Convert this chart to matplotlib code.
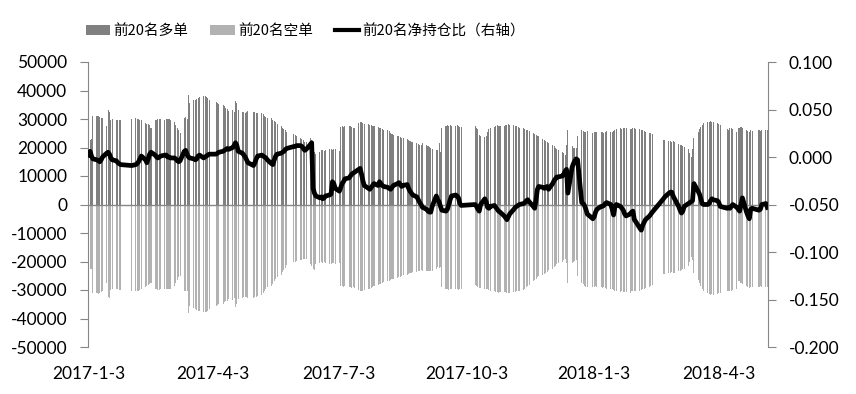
import numpy as np
import pandas as pd
import matplotlib
matplotlib.use('Agg')
import matplotlib.pyplot as plt
from matplotlib.patches import Patch
from matplotlib.lines import Line2D

plt.rcParams['font.family'] = ['Lato', 'Noto Sans CJK SC', 'DejaVu Sans']
plt.rcParams['axes.unicode_minus'] = False

# exchange holidays falling on weekdays (no trading)
holidays = ['2017-01-02', '2017-01-27', '2017-01-30', '2017-01-31', '2017-02-01', '2017-02-02',
            '2017-04-03', '2017-04-04', '2017-05-01', '2017-05-29', '2017-05-30',
            '2017-10-02', '2017-10-03', '2017-10-04', '2017-10-05', '2017-10-06',
            '2018-01-01', '2018-02-15', '2018-02-16', '2018-02-19', '2018-02-20', '2018-02-21',
            '2018-04-05', '2018-04-06', '2018-04-30', '2018-05-01']
first_day, last_day = '2017-01-03', '2018-05-08'

# top-20 long positions (thousand lots), one line per month
long_k = [
    22.5, 22.8, 23, 31, 31, 31.2, 30.8, 30.5, 30.2, 27.5, 33, 32.5, 29.5, 30, 29.6, 29.8, 29.7, 29.5,
    30, 30.2, 30, 30.1, 29.8, 29.6, 28.6, 28.4, 28.2, 27.8, 27, 29.5, 29.8, 30, 29.9, 30, 29.7, 30.1,
    30, 29.9, 29.5, 28.8, 28, 27, 26, 25, 30.5, 30.8, 30, 38.4, 35.7, 36.5, 36.8, 37, 37.5, 37.8, 37.9, 38, 37.8, 37.5, 36.7,
    35.8, 35.5, 35.2, 35, 34.5, 34, 33.5, 32.8, 33.2, 32.5, 36.3, 35.6, 33, 32.5, 32.3, 32, 32.5, 32.8,
    32.3, 32.5, 32.2, 32, 32.2, 31.8, 31.2, 30.8, 30.5, 30.2, 29.8, 29.2, 28.8, 28.2, 27.5, 27, 26.5, 26, 25.6, 24.8,
    24.5, 24, 23.5, 23, 22.5, 22, 21.8, 23.5, 22.8, 22, 18.5, 17.8, 18.5, 19, 19.2, 18.8, 19, 19.3, 19.5, 19.2, 19.6, 19.4,
    18.6, 27.2, 27.4, 27.3, 27.5, 27.6, 27.4, 27.2, 26.8, 27, 28.6, 29, 28.8, 28.5, 28.2, 28.4, 28, 27.8, 27.5, 27.6, 27.3,
    27, 26.8, 26.5, 26.3, 26, 25.7, 25.2, 24.8, 24.5, 24.2, 24, 23.8, 23.5, 23.2, 23, 22.6, 22.4, 22, 21.8, 21.5, 21.2, 21, 20.8,
    21.5, 20.8, 20.5, 20.2, 19.8, 19.5, 19.2, 19, 21.5, 18.5, 27, 27.5, 27.8, 27.6, 27.9, 27.7, 27.5, 27.8, 27.6, 27.3, 27.2,
    27.5, 27, 26.5, 24.5, 24, 23.8, 24.2, 25.5, 26.5, 27, 27.3, 27.5, 27.8, 27.6, 27.7, 27.5, 27.8,
    28, 28.2, 28, 27.8, 27.6, 27.5, 27.2, 27, 26.8, 26.5, 26.2, 26, 25.8, 25.2, 24.8, 24.5, 24.2, 24, 23, 22.6, 22.2, 22,
    21.5, 21, 20.5, 20, 19.5, 19, 18.5, 18, 17.5, 21, 26, 20.5, 20, 19.8, 20, 24, 26, 25.8, 25.5, 25.6, 25.8,
    25.2, 25.4, 25.3, 25.5, 25.6, 25.4, 25.2, 25.5, 25.8, 25.6, 25.4, 25.8, 26.2, 26.5, 26.8, 26.6, 26.7, 27, 26.8, 26.5, 26.6, 26.8,
    26.8, 26.5, 26.4, 26.2, 26, 25.8, 25.5, 25.2, 25, 24.6, 22.5, 22.6, 22.4, 22.2, 22,
    22.2, 22, 21.2, 21, 20.8, 20.5, 20.3, 19.5, 18, 16.5, 19.5, 23.5, 25.5, 26.5, 27.2, 27.8, 28.5, 28.8, 29, 29.2, 28.9, 29.1,
    28.5, 28.2, 28, 26.5, 26.2, 26.8, 27, 26.5, 25.5, 26.8, 27, 27.2, 26.8, 26, 25.8, 25.5, 26, 25.8,
    26.2, 25.8, 26, 26.3, 26.1,
]

# top-20 short positions (thousand lots)
short_k = [
    -22.3, -22.5, -22.8, -31, -31.2, -31.3, -31, -30.8, -30.5, -27.5, -32.5, -32.8, -30, -29.8, -29.7, -29.8, -29.9, -30,
    -30.3, -30.5, -30.2, -30.3, -30, -29.8, -28.8, -28.5, -28.2, -28, -27.5, -29.6, -29.8, -30, -29.9, -29.8, -29.7, -29.8,
    -29.8, -29.6, -29.5, -28.5, -27.5, -26.5, -25.5, -25, -30.2, -30.5, -30.3, -38, -35.5, -36.2, -36.8, -37, -37.2, -37.5, -37.6, -37.8, -37.7, -37.5, -36.8,
    -35.5, -35.2, -35, -34.8, -34.3, -34, -33.8, -33, -33.5, -32.8, -35.8, -35, -33.2, -32.8, -32.6, -32.3, -32.5, -32.8,
    -32.8, -32.6, -32.3, -32, -31.8, -31.2, -30.5, -29.8, -29, -28.5, -27.8, -27, -26.2, -25.5, -24.6, -23.8, -23, -22.2, -21.2, -20.3,
    -20, -19.8, -19.5, -19.3, -19.2, -19, -19.2, -21, -21.5, -22.5, -23, -21, -20.5, -20.3, -20.6, -20.2, -20.4, -20.8, -21, -20.6, -20.5, -20.8,
    -20.5, -28.5, -28.6, -28.8, -28.7, -28.9, -29, -29.2, -29, -29.3, -30, -30.5, -30.4, -30.2, -30, -29.8, -29.5, -29.2, -28.8, -28.6, -28.4,
    -28, -27.8, -27.5, -27.2, -27, -26.8, -26.5, -26.2, -26, -25.8, -25.5, -25.3, -25, -24.8, -24.6, -24.4, -24.2, -24, -23.8, -23.6, -23.4, -23.2, -23,
    -23.5, -23.4, -23.3, -23.2, -23.4, -23.5, -22.5, -22, -22.3, -22, -29, -29.5, -29.8, -30, -29.8, -29.6, -29.5, -29.8, -30, -29.7, -29.5,
    -28.2, -28.5, -28.8, -29.2, -29.4, -29.6, -29.7, -29.8, -30, -30.2, -30.4, -30.6, -30.8, -31, -30.8, -30.6, -30.8,
    -31, -31.2, -31, -30.8, -30.6, -30.5, -30.3, -30.2, -30, -29.5, -29, -28.6, -28.2, -27, -26.5, -26, -25.6, -25.2, -24.8, -24.5, -24, -23.8,
    -23, -22.5, -22, -21.5, -21, -20.5, -20, -19.5, -19.2, -20.5, -27.5, -20.5, -20, -19.8, -19.5, -25, -27.5, -28, -28.5, -28.8, -29,
    -29, -28.8, -28.6, -28.8, -29, -29.2, -29, -29.3, -29.5, -29.8, -29.6, -30, -30.2, -30.4, -30.6, -30.4, -30.8, -30.6, -30.7, -30.9, -30.5, -30.4,
    -30.5, -30.3, -30.2, -30, -29.8, -29.5, -29.2, -28.8, -28.5, -28.2, -24.5, -24.4, -24.2, -24, -23.8,
    -24.2, -24, -23.5, -23.2, -23, -22.8, -22.5, -21.5, -20, -18.5, -19.5, -24, -26.5, -27.5, -28.5, -29.5, -30.5, -31, -31.5, -31.8, -31.5, -31.6,
    -31.5, -31.2, -31, -30.5, -30.2, -30.5, -30.3, -30, -29.5, -27, -26.8, -27.5, -28, -28.5, -29, -29.2, -29, -28.8,
    -29, -28.7, -28.8, -29, -28.9,
]

# top-20 net position ratio (right axis)
net_ratio = [
    0.002, 0.006, 0.001, -0.002, -0.003, -0.004, -0.005, -0.003, 0.000, 0.004, 0.005, 0.003, -0.001, -0.003, -0.004, -0.006, -0.007, -0.008,
    -0.009, -0.008, -0.007, -0.005, -0.002, 0.001, -0.003, -0.006, -0.002, 0.003, 0.005, 0.002, 0.0, -0.001, 0.0, 0.001, 0.002, 0.002,
    0.0, 0.0, -0.001, -0.001, -0.002, -0.004, -0.005, -0.004, 0.006, 0.007, 0.003, 0.0, -0.001, -0.002, -0.003, -0.002, 0.001, 0.002, -0.001, 0.0, 0.001, 0.002, 0.003,
    0.003, 0.004, 0.005, 0.006, 0.007, 0.008, 0.009, 0.008, 0.01, 0.012, 0.015, 0.012, 0.006, 0.004, 0.002, 0.0, -0.003, -0.006,
    -0.009, -0.006, -0.002, 0.001, 0.002, 0.001, 0.0, -0.001, -0.003, -0.007, -0.008, -0.003, 0.001, 0.003, 0.004, 0.005, 0.006, 0.008, 0.009, 0.011,
    0.011, 0.012, 0.012, 0.011, 0.009, 0.007, 0.008, 0.013, 0.015, -0.033, -0.038, -0.041, -0.043, -0.042, -0.044, -0.043, -0.041, -0.04, -0.039, -0.026, -0.028, -0.033,
    -0.036, -0.032, -0.028, -0.026, -0.023, -0.022, -0.02, -0.018, -0.017, -0.016, -0.013, -0.012, -0.018, -0.025, -0.03, -0.033, -0.034, -0.032, -0.03, -0.028, -0.03,
    -0.026, -0.028, -0.03, -0.031, -0.032, -0.033, -0.034, -0.032, -0.03, -0.028, -0.027, -0.029, -0.031, -0.03, -0.029, -0.033, -0.036, -0.038, -0.04, -0.042, -0.045, -0.048, -0.05,
    -0.053, -0.055, -0.057, -0.058, -0.058, -0.052, -0.041, -0.045, -0.047, -0.052, -0.056, -0.057, -0.055, -0.05, -0.045, -0.041, -0.04, -0.041, -0.043, -0.049, -0.051,
    -0.05, -0.052, -0.055, -0.057, -0.05, -0.044, -0.047, -0.053, -0.054, -0.052, -0.051, -0.053, -0.055, -0.057, -0.058, -0.062, -0.064,
    -0.066, -0.063, -0.06, -0.055, -0.053, -0.052, -0.051, -0.05, -0.049, -0.048, -0.046, -0.045, -0.047, -0.052, -0.054, -0.045, -0.034, -0.031, -0.032, -0.033, -0.032, -0.031,
    -0.034, -0.028, -0.025, -0.023, -0.021, -0.021, -0.02, -0.018, -0.015, -0.013, -0.038, -0.011, -0.007, -0.004, -0.002, -0.003, -0.048, -0.049, -0.051, -0.055, -0.06,
    -0.065, -0.063, -0.058, -0.055, -0.052, -0.052, -0.051, -0.049, -0.048, -0.05, -0.055, -0.061, -0.052, -0.05, -0.052, -0.054, -0.056, -0.06, -0.062, -0.06, -0.058, -0.057,
    -0.066, -0.068, -0.075, -0.077, -0.072, -0.069, -0.066, -0.062, -0.06, -0.058, -0.044, -0.042, -0.038, -0.037, -0.037,
    -0.041, -0.044, -0.052, -0.056, -0.059, -0.057, -0.052, -0.049, -0.048, -0.047, -0.046, -0.028, -0.036, -0.039, -0.044, -0.049, -0.05, -0.05, -0.049, -0.046, -0.044, -0.045,
    -0.046, -0.048, -0.052, -0.054, -0.053, -0.054, -0.052, -0.05, -0.053, -0.055, -0.057, -0.05, -0.043, -0.058, -0.062, -0.065, -0.055, -0.054,
    -0.056, -0.055, -0.05, -0.049, -0.053,
]

tick_dates = ['2017-01-03', '2017-04-03', '2017-07-03', '2017-10-03', '2018-01-03', '2018-04-03']
tick_labels = ['2017-1-3', '2017-4-3', '2017-7-3', '2017-10-3', '2018-1-3', '2018-4-3']
left_ticks = [-50000, -40000, -30000, -20000, -10000, 0, 10000, 20000, 30000, 40000, 50000]
right_ticks = [-0.2, -0.15, -0.1, -0.05, 0.0, 0.05, 0.1]
legend_labels = ['前20名多单', '前20名空单', '前20名净持仓比（右轴）']

dates = pd.bdate_range(first_day, last_day)
dates = dates[~dates.isin(pd.to_datetime(holidays))]

fig = plt.figure(figsize=(8.56, 3.94), dpi=100)
ax = fig.add_axes([88/856, 1-347/394, 680/856, 285/394])

ax.bar(dates, np.array(long_k)*1000, width=0.75, color='#808080', linewidth=0, antialiased=False)
ax.bar(dates, np.array(short_k)*1000, width=0.75, color='#b2b2b2', linewidth=0, antialiased=False)
ax.axhline(0, color='#868686', linewidth=1)

ax.set_ylim(-50000, 50000)
ax.set_yticks(left_ticks)
ax.set_yticklabels([str(t) for t in left_ticks])
ax.set_xlim(dates[0] - pd.Timedelta(hours=12), dates[-1] + pd.Timedelta(hours=12))
ax.set_xticks(pd.to_datetime(tick_dates))
ax.set_xticklabels(tick_labels)

for s in ['top', 'bottom', 'right']:
    ax.spines[s].set_visible(False)
ax.spines['left'].set_color('#868686')
ax.tick_params(axis='y', direction='out', length=6, color='#868686', labelsize=12.5, pad=9)
ax.tick_params(axis='x', length=0, labelsize=12.5, pad=14)

ax2 = ax.twinx()
ax2.plot(dates, net_ratio, color='black', linewidth=3.4, solid_joinstyle='round')
ax2.set_ylim(-0.2, 0.1)
ax2.set_yticks(right_ticks)
ax2.set_yticklabels(['%.3f' % t for t in right_ticks])
for s in ['top', 'bottom', 'left']:
    ax2.spines[s].set_visible(False)
ax2.spines['right'].set_color('#868686')
ax2.tick_params(axis='y', direction='out', length=6, color='#868686', labelsize=12.5, pad=9)

handles = [Patch(facecolor='#808080', edgecolor='none'),
           Patch(facecolor='#b2b2b2', edgecolor='none'),
           Line2D([0], [0], color='black', linewidth=3)]
fig.legend(handles, legend_labels, loc='center left', bbox_to_anchor=(86/856, 1-31/394),
           ncol=3, frameon=False, borderpad=0, borderaxespad=0, handlelength=1.65,
           handleheight=0.65, handletextpad=0.25, columnspacing=1.5,
           prop={'family': ['Noto Sans CJK SC', 'DejaVu Sans'], 'size': 10.5})

fig.savefig('out.png', dpi=100)
